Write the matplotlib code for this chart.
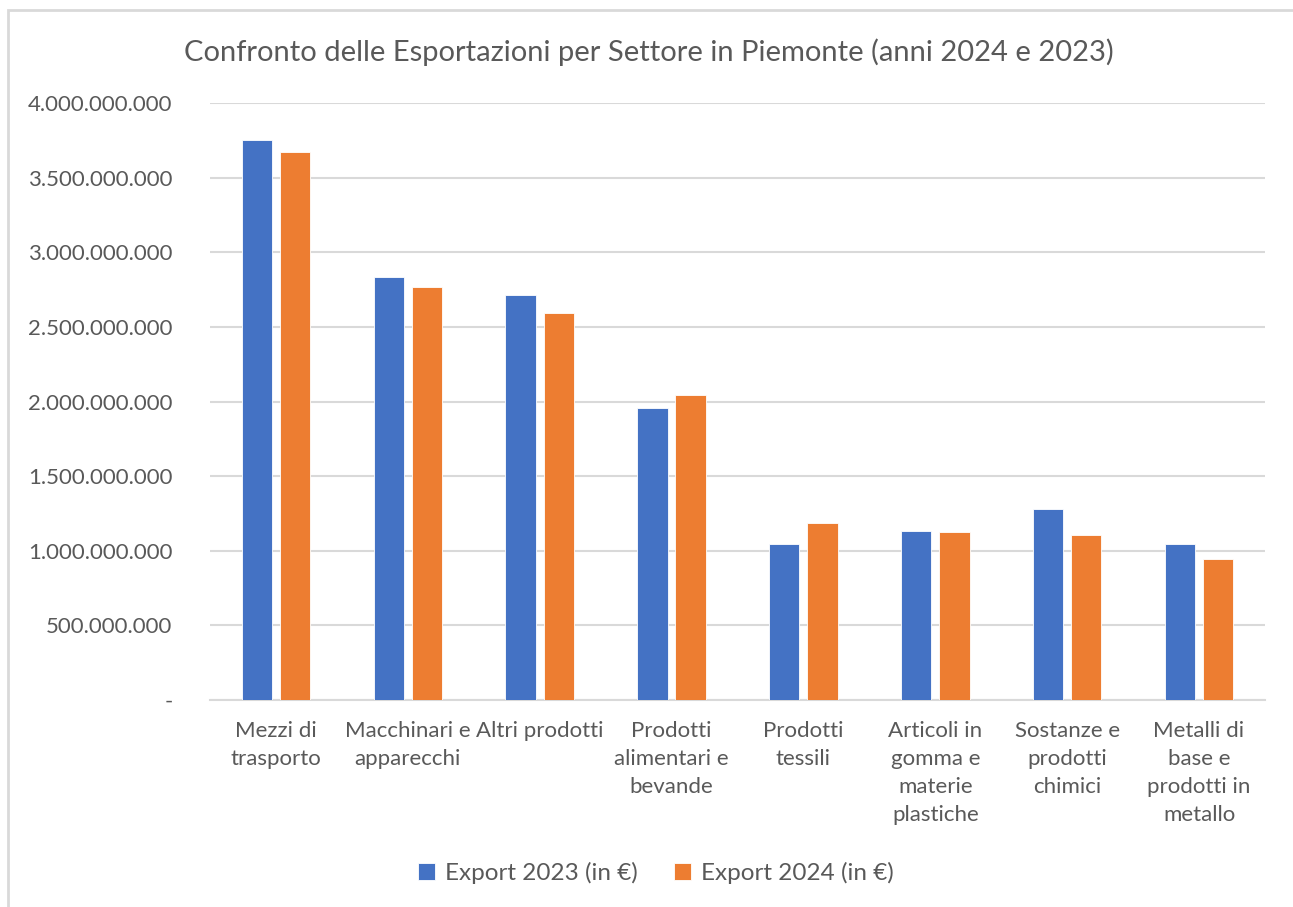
import matplotlib
matplotlib.use("Agg")
import matplotlib.pyplot as plt
import numpy as np
from matplotlib.ticker import FuncFormatter, MultipleLocator
from matplotlib.patches import Rectangle

plt.rcParams['font.family'] = ['Lato', 'DejaVu Sans']

settori = [
    "Mezzi di\ntrasporto",
    "Macchinari e\napparecchi",
    "Altri prodotti",
    "Prodotti\nalimentari e\nbevande",
    "Prodotti\ntessili",
    "Articoli in\ngomma e\nmaterie\nplastiche",
    "Sostanze e\nprodotti\nchimici",
    "Metalli di\nbase e\nprodotti in\nmetallo",
]
export_2023 = [3752e6, 2834e6, 2714e6, 1956e6, 1045e6, 1132e6, 1280e6, 1045e6]
export_2024 = [3672e6, 2767e6, 2593e6, 2044e6, 1186e6, 1126e6, 1106e6, 945e6]
serie = ["Export 2023 (in €)", "Export 2024 (in €)"]

testo = "#595959"
griglia = "#d9d9d9"

fig = plt.figure(figsize=(12.93, 9.07), dpi=100)
ax = fig.add_axes([0.1624, 0.2282, 0.8159, 0.6582])

x = np.arange(len(settori))
w = 0.23
ax.bar(x - 0.145, export_2023, w, color="#4472C4", edgecolor="white", linewidth=0.6, label=serie[0], zorder=3)
ax.bar(x + 0.145, export_2024, w, color="#ED7D31", edgecolor="white", linewidth=0.6, label=serie[1], zorder=3)

ax.set_xlim(-0.5, len(settori) - 0.5)
ax.set_ylim(0, 4e9)
ax.yaxis.set_major_locator(MultipleLocator(5e8))


def fmt(v, pos):
    if v == 0:
        return "-"
    return f"{int(v):,}".replace(",", ".")


ax.yaxis.set_major_formatter(FuncFormatter(fmt))
ax.grid(axis="y", color=griglia, linewidth=1.5, zorder=0)
for s in ["top", "right", "left"]:
    ax.spines[s].set_visible(False)
ax.spines["bottom"].set_color(griglia)
ax.spines["bottom"].set_linewidth(1.5)
ax.tick_params(axis="y", length=0, pad=27, labelsize=16, labelcolor=testo)
ax.tick_params(axis="x", length=0, pad=15, labelsize=16, labelcolor=testo)
ax.set_xticks(x)
ax.set_xticklabels(settori, linespacing=1.5, va="top")

fig.text(0.502, 0.943, "Confronto delle Esportazioni per Settore in Piemonte (anni 2024 e 2023)",
         ha="center", va="center", fontsize=21, color=testo)

fig.legend(loc="center", bbox_to_anchor=(0.507, 0.037), ncol=2, frameon=False,
           fontsize=17.5, labelcolor=testo, handlelength=0.7, handleheight=0.7,
           handletextpad=0.4, columnspacing=1.5)

# cornice del grafico
fig.patches.append(Rectangle((8 / 1293, -0.05), 1.0, 0.05 + (907 - 10) / 907,
                             transform=fig.transFigure, fill=False,
                             edgecolor=griglia, linewidth=2))

fig.savefig("out.png", dpi=100, facecolor="white")
